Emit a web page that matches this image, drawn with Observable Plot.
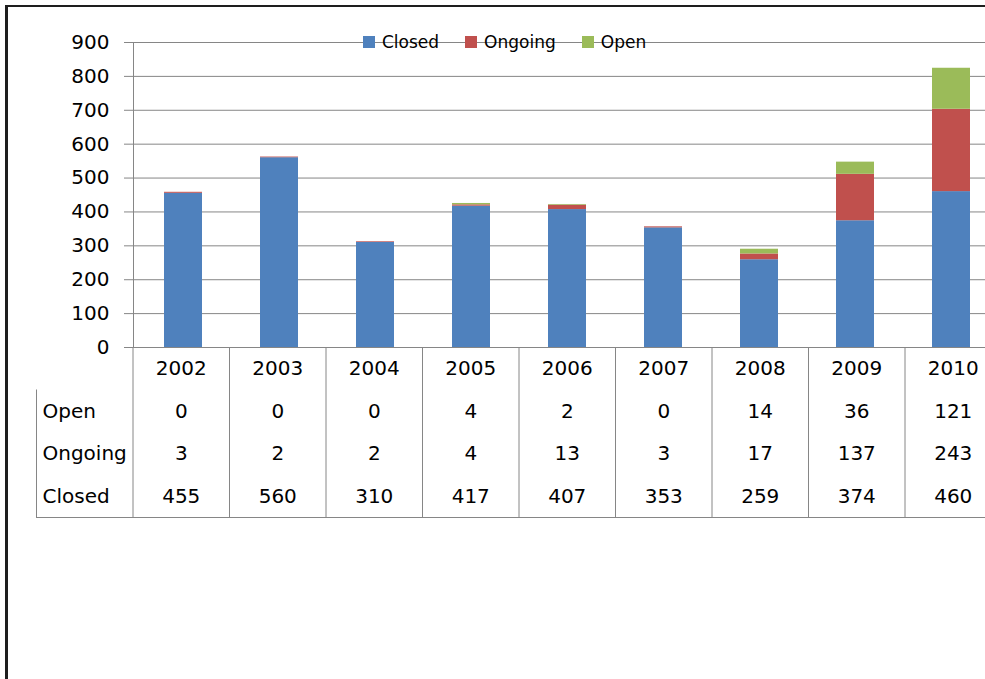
<!DOCTYPE html>
<html>
<head>
<meta charset="utf-8">
<script src="https://cdn.jsdelivr.net/npm/d3@7"></script>
<script src="https://cdn.jsdelivr.net/npm/@observablehq/plot@0.6"></script>
<style>
  html, body { margin: 0; padding: 0; background: #fff; }
  body { width: 985px; height: 679px; overflow: hidden; position: relative; font-family: "DejaVu Sans", sans-serif; }
  #border { position: absolute; left: 5px; top: 5px; width: 990px; height: 690px; border-left: 3px solid #1e1e1e; border-top: 2px solid #1e1e1e; box-sizing: border-box; }
  #chart { position: absolute; left: 0; top: 0; }
  #table { position: absolute; left: 0; top: 346px; }
  #chart svg, #table svg { max-width: none !important; }
  #legend { position: absolute; left: 363px; top: 32px; display: flex; align-items: center; font-size: 17px; line-height: 20px; color: #000; }
  #legend .item { display: flex; align-items: center; margin-right: 26px; }
  #legend .sw { width: 12px; height: 12px; margin-right: 7px; }
</style>
</head>
<body>
<div id="border"></div>
<div id="chart"></div>
<div id="table"></div>
<div id="legend"></div>
<script>
const years = ["2002", "2003", "2004", "2005", "2006", "2007", "2008", "2009", "2010"];
const closed = [455, 560, 310, 417, 407, 353, 259, 374, 460];
const ongoing = [3, 2, 2, 4, 13, 3, 17, 137, 243];
const open = [0, 0, 0, 4, 2, 0, 14, 36, 121];
const series = ["Closed", "Ongoing", "Open"];
const seriesColors = ["#4F81BD", "#C0504D", "#9BBB59"];
const yTicks = [0, 100, 200, 300, 400, 500, 600, 700, 800, 900];
const tableRows = ["Open", "Ongoing", "Closed"];

const valuesBySeries = {Closed: closed, Ongoing: ongoing, Open: open};
const data = years.flatMap((year, i) => series.map(s => ({year, status: s, value: valuesBySeries[s][i]})));

const gridColor = "#868686";
const baseStyle = {fontFamily: "DejaVu Sans, sans-serif", fontSize: "20px", color: "#000", background: "transparent", overflow: "visible", maxWidth: "none"};

const chart = Plot.plot({
  width: 1001,
  height: 348,
  marginLeft: 133,
  marginRight: 0,
  marginTop: 42,
  marginBottom: 1,
  style: baseStyle,
  x: {domain: years, paddingInner: 0.6, paddingOuter: 0.3, axis: null},
  y: {domain: [0, 900], axis: null},
  color: {domain: series, range: seriesColors},
  marks: [
    Plot.gridY(yTicks, {stroke: gridColor, strokeOpacity: 1}),
    Plot.barY(data, {x: "year", y: "value", fill: "status", order: series}),
    Plot.axisY(yTicks, {tickSize: 9, tickPadding: 15, stroke: gridColor, fill: "#000", fontSize: 20, label: null}),
    Plot.frame({anchor: "left", stroke: gridColor})
  ]
});
document.getElementById("chart").append(chart);

// data table below the chart, columns indexed: -1 = row labels, 0..8 = years
const header = years.map((year, i) => ({col: i + 0.5, row: 0.5, text: year}));
const cells = tableRows.flatMap((r, ri) => years.map((year, i) => ({col: i + 0.5, row: ri + 1.5, text: String(valuesBySeries[r][i])})));
const labels = tableRows.map((r, ri) => ({col: -1, row: ri + 1.5, text: r}));

const table = Plot.plot({
  width: 1001,
  height: 172,
  marginLeft: 36,
  marginRight: 0,
  marginTop: 1,
  marginBottom: 1,
  style: baseStyle,
  x: {domain: [-1, years.length], axis: null},
  y: {domain: [0, 4], reverse: true, axis: null},
  marks: [
    Plot.ruleX(d3.range(0, years.length + 1), {y1: 0, y2: 4, stroke: gridColor}),
    Plot.ruleX([-1], {y1: 1, y2: 4, stroke: gridColor}),
    Plot.ruleY([4], {x1: -1, x2: years.length, stroke: gridColor}),
    Plot.text(header, {x: "col", y: "row", text: "text", fill: "#000", fontSize: 20}),
    Plot.text(cells, {x: "col", y: "row", text: "text", fill: "#000", fontSize: 20}),
    Plot.text(labels, {x: "col", y: "row", text: "text", textAnchor: "start", dx: 6, fill: "#000", fontSize: 20})
  ]
});
document.getElementById("table").append(table);

// legend using the chart's color scale
const colorScale = chart.scale("color");
const legend = document.getElementById("legend");
colorScale.domain.forEach((s, i) => {
  const item = document.createElement("span");
  item.className = "item";
  const sw = document.createElement("span");
  sw.className = "sw";
  sw.style.background = colorScale.range[i];
  const label = document.createElement("span");
  label.textContent = s;
  item.append(sw, label);
  legend.append(item);
});
</script>
</body>
</html>
